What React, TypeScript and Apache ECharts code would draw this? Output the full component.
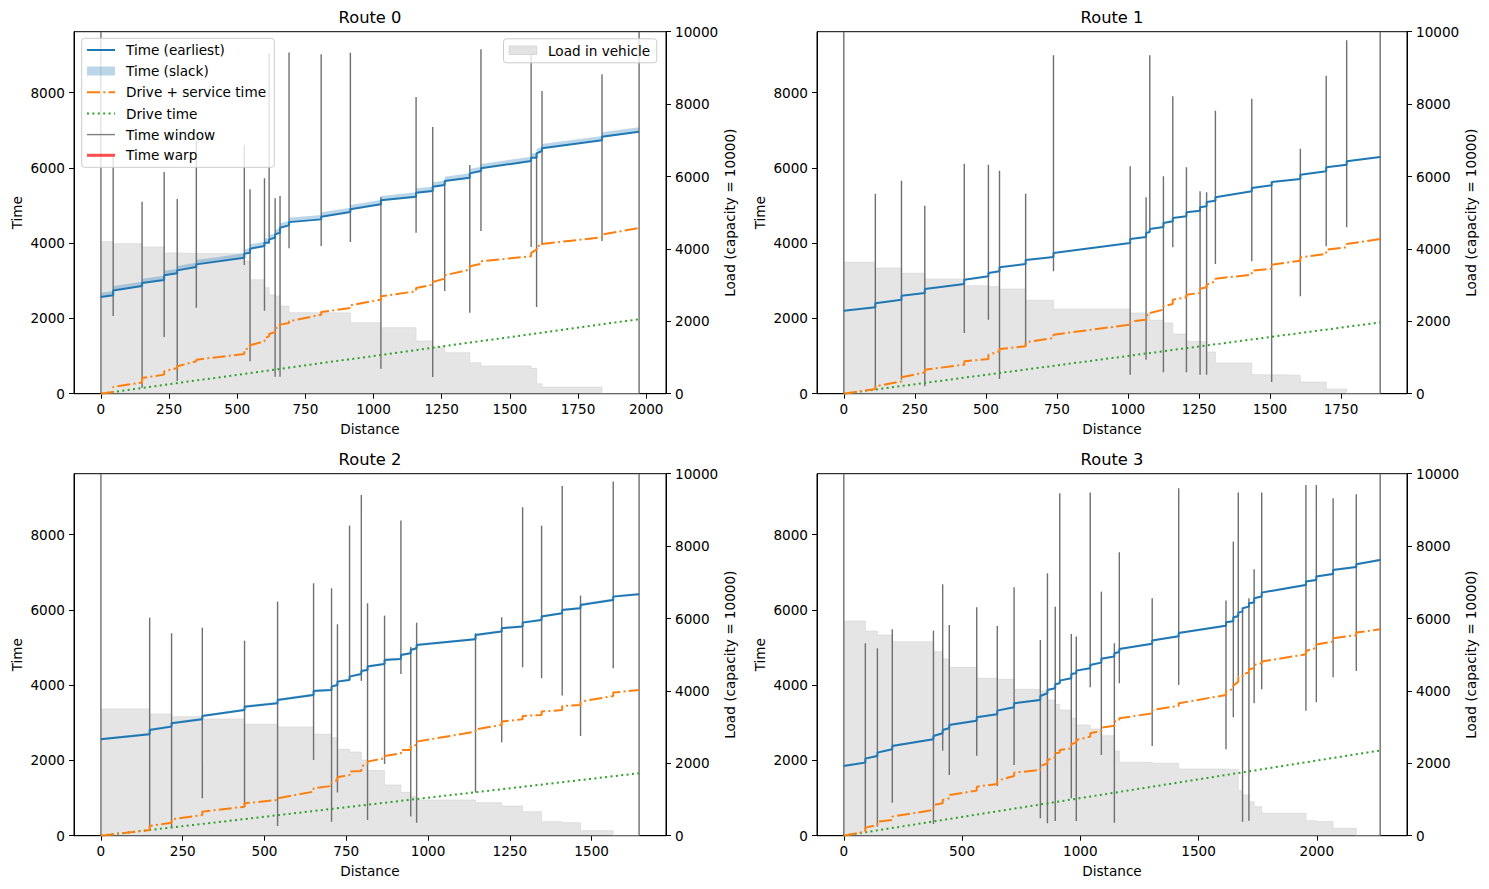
import React, { useEffect, useRef } from "react";
import * as echarts from "echarts";

const FONT = "DejaVu Sans";
const TIME_MAX = 9621;
const LOAD_MAX = 10000;

const routeTitles = ["Route 0", "Route 1", "Route 2", "Route 3"];
const timeTicks = [0, 2000, 4000, 6000, 8000];
const loadTicks = [0, 2000, 4000, 6000, 8000, 10000];

// ---------- Route 0 ----------
const r0DistTicks = [0, 250, 500, 750, 1000, 1250, 1500, 1750, 2000];
const r0Dist = [0, 45, 151, 232, 280, 350, 526, 547, 600, 617, 639, 657, 690, 808, 915, 1027, 1156, 1217, 1261, 1353, 1394, 1578, 1598, 1618, 1838, 1974];
const r0TwEarly = [0, 2065, 160, 1506, 337, 2286, 3421, 860, 2206, 4130, 452, 452, 3865, 3926, 4032, 665, 4280, 443, 2729, 2153, 4324, 3899, 2304, 3952, 4059, 0];
const r0TwLate = [9621, 6300, 5103, 5892, 5175, 6717, 6600, 5431, 5725, 9050, 5194, 5253, 9070, 9019, 9063, 5228, 7886, 7088, 5653, 6078, 9152, 9152, 6406, 8046, 8487, 9621];
const r0Load = [4199, 4144, 4052, 3886, 3875, 3867, 3665, 3149, 2928, 2730, 2700, 2422, 2238, 2230, 1961, 1823, 1455, 1289, 1133, 856, 764, 700, 276, 184, 0];
const r0EarliestArr = [2570, 2615, 2862, 3021, 3200, 3367, 3615, 3748, 3925, 4014, 4146, 4279, 4474, 4633, 4829, 5033, 5236, 5387, 5546, 5741, 5919, 6184, 6273, 6450, 6733, 6964];
const r0EarliestDep = [2570, 2745, 2942, 3150, 3278, 3437, 3721, 3854, 4014, 4102, 4235, 4412, 4560, 4705, 4900, 5139, 5343, 5502, 5653, 5856, 5989, 6273, 6388, 6521, 6831, 6964];
const r0DriveServArr = [0, 48, 300, 507, 684, 861, 1056, 1215, 1393, 1525, 1641, 1765, 1880, 2101, 2279, 2500, 2722, 2899, 3058, 3298, 3448, 3652, 3829, 3944, 4157, 4405];
const r0DriveServDep = [0, 180, 418, 595, 728, 905, 1171, 1286, 1481, 1587, 1747, 1836, 1924, 2172, 2350, 2589, 2810, 2970, 3147, 3386, 3519, 3741, 3918, 3980, 4228, 4405];
const r0DriveTime = [0, 1980];

// ---------- Route 1 ----------
const r1DistTicks = [0, 250, 500, 750, 1000, 1250, 1500, 1750];
const r1Dist = [0, 111, 203, 285, 424, 509, 548, 640, 738, 1008, 1064, 1077, 1125, 1158, 1206, 1254, 1277, 1308, 1436, 1506, 1607, 1698, 1770, 1888];
const r1TwEarly = [0, 152, 372, 197, 1613, 1967, 390, 1260, 3253, 505, 904, 4404, 569, 3891, 569, 505, 505, 3447, 3519, 311, 2589, 3918, 4423, 0];
const r1TwLate = [9621, 5316, 5662, 4998, 6114, 6087, 5928, 5316, 8995, 6045, 5220, 8995, 5779, 7905, 6018, 5380, 5353, 7523, 7841, 5627, 6512, 8453, 9393, 9621];
const r1Load = [3630, 3472, 3326, 3168, 2983, 2960, 2892, 2580, 2340, 2229, 2210, 2027, 1953, 1649, 1447, 1430, 1152, 848, 525, 510, 323, 130, 0];
const r1EarliestArr = [2207, 2296, 2499, 2676, 2916, 3120, 3253, 3447, 3633, 4006, 4165, 4297, 4431, 4582, 4715, 4865, 4981, 5130, 5380, 5539, 5707, 5911, 6087, 6291];
const r1EarliestDep = [2207, 2403, 2605, 2783, 3030, 3208, 3360, 3554, 3740, 4112, 4271, 4378, 4537, 4670, 4822, 4954, 5095, 5220, 5468, 5627, 5821, 6018, 6177, 6291];
const r1DriveServArr = [0, 125, 328, 568, 771, 922, 1126, 1259, 1480, 1835, 1968, 2101, 2234, 2384, 2561, 2677, 2827, 2987, 3164, 3323, 3536, 3713, 3891, 4112];
const r1DriveServDep = [0, 196, 435, 639, 860, 1037, 1188, 1365, 1569, 1923, 2083, 2145, 2322, 2499, 2632, 2792, 2898, 3057, 3270, 3430, 3624, 3828, 3979, 4112];
const r1DriveTime = [0, 1895];

// ---------- Route 2 ----------
const r2DistTicks = [0, 250, 500, 750, 1000, 1250, 1500];
const r2Dist = [0, 149, 216, 310, 439, 540, 650, 705, 723, 760, 796, 815, 867, 917, 947, 965, 1145, 1225, 1289, 1347, 1410, 1466, 1566, 1645];
const r2TwEarly = [0, 179, 197, 994, 772, 259, 2013, 374, 1145, 4139, 4113, 418, 1907, 4299, 507, 347, 1145, 2482, 4476, 4184, 3723, 2651, 4449, 0];
const r2TwLate = [9621, 5796, 5380, 5530, 5185, 6221, 6709, 6576, 5619, 8241, 9057, 6177, 5849, 8374, 5025, 5663, 5380, 5805, 8729, 8241, 9296, 6381, 9411, 9621];
const r2Load = [3500, 3362, 3288, 3223, 3076, 3002, 2800, 2708, 2385, 2312, 2091, 1800, 1400, 1198, 1080, 986, 913, 821, 664, 388, 360, 139, 0];
const r2EarliestArr = [2562, 2695, 2899, 3094, 3342, 3519, 3741, 3873, 4006, 4139, 4299, 4405, 4564, 4697, 4848, 4981, 5220, 5424, 5557, 5734, 5911, 6044, 6266, 6416];
const r2EarliestDep = [2562, 2810, 2988, 3182, 3430, 3608, 3847, 3962, 4095, 4228, 4378, 4494, 4671, 4804, 4937, 5069, 5335, 5513, 5663, 5823, 6000, 6133, 6354, 6416];
const r2DriveServArr = [0, 152, 347, 551, 772, 950, 1171, 1322, 1481, 1614, 1720, 1924, 2057, 2190, 2279, 2411, 2766, 2943, 3094, 3209, 3342, 3475, 3713, 3873];
const r2DriveServDep = [0, 259, 436, 640, 861, 994, 1260, 1410, 1552, 1703, 1836, 1969, 2119, 2279, 2385, 2500, 2828, 3032, 3182, 3298, 3448, 3563, 3803, 3873];
const r2DriveTime = [0, 1660];

// ---------- Route 3 ----------
const r3DistTicks = [0, 500, 1000, 1500, 2000];
const r3Dist = [0, 91, 142, 205, 379, 418, 446, 562, 649, 720, 831, 861, 894, 913, 962, 983, 1042, 1089, 1144, 1165, 1304, 1416, 1616, 1647, 1668, 1686, 1713, 1735, 1767, 1954, 1998, 2069, 2167, 2268];
const r3TwEarly = [0, 134, 241, 879, 312, 2261, 1614, 2128, 1322, 1880, 462, 329, 391, 4051, 994, 391, 3944, 2146, 347, 4051, 2385, 4006, 2296, 3147, 4228, 374, 400, 3519, 3891, 3324, 3546, 4210, 4378, 0];
const r3TwLate = [9621, 5114, 4981, 5486, 5450, 6682, 5601, 6071, 5574, 6602, 5202, 6974, 6088, 9101, 5362, 5291, 9119, 6487, 5114, 7533, 6310, 9234, 6248, 7816, 9119, 5956, 6310, 7081, 9119, 9322, 9322, 8968, 9074, 9621];
const r3Load = [5930, 5654, 5544, 5359, 5083, 4881, 4650, 4347, 4319, 4043, 4000, 3748, 3628, 3472, 3242, 3058, 2947, 2763, 2340, 2027, 2000, 1842, 1830, 1820, 1244, 1124, 940, 802, 618, 415, 390, 203, 0];
const r3EarliestArr = [1854, 1942, 2119, 2296, 2562, 2722, 2855, 3058, 3227, 3413, 3608, 3785, 3918, 4051, 4184, 4316, 4449, 4600, 4760, 4880, 5100, 5300, 5580, 5700, 5840, 5956, 6088, 6199, 6355, 6664, 6797, 6957, 7140, 7329];
const r3EarliestDep = [1854, 2048, 2208, 2385, 2651, 2810, 2943, 3147, 3324, 3519, 3714, 3873, 4024, 4121, 4299, 4387, 4538, 4700, 4850, 4960, 5185, 5385, 5670, 5800, 5929, 6044, 6177, 6310, 6460, 6753, 6886, 7063, 7214, 7329];
const r3DriveServArr = [0, 108, 285, 418, 684, 861, 994, 1198, 1375, 1588, 1747, 1924, 2084, 2208, 2323, 2474, 2633, 2784, 2920, 3060, 3253, 3448, 3740, 3900, 4095, 4228, 4334, 4449, 4582, 4820, 4990, 5160, 5330, 5486];
const r3DriveServDep = [0, 214, 374, 507, 817, 950, 1083, 1304, 1463, 1676, 1853, 2013, 2190, 2279, 2438, 2545, 2722, 2872, 3032, 3120, 3342, 3519, 3840, 3985, 4210, 4299, 4423, 4538, 4627, 4910, 5080, 5250, 5400, 5486];
const r3DriveTime = [0, 2265];

// slack (latest - earliest) per route
const slackWidth = [115, 0, 35, 30];

const routes = [
  { dist: r0Dist, twE: r0TwEarly, twL: r0TwLate, load: r0Load, eA: r0EarliestArr, eD: r0EarliestDep, sA: r0DriveServArr, sD: r0DriveServDep, drive: r0DriveTime, ticks: r0DistTicks },
  { dist: r1Dist, twE: r1TwEarly, twL: r1TwLate, load: r1Load, eA: r1EarliestArr, eD: r1EarliestDep, sA: r1DriveServArr, sD: r1DriveServDep, drive: r1DriveTime, ticks: r1DistTicks },
  { dist: r2Dist, twE: r2TwEarly, twL: r2TwLate, load: r2Load, eA: r2EarliestArr, eD: r2EarliestDep, sA: r2DriveServArr, sD: r2DriveServDep, drive: r2DriveTime, ticks: r2DistTicks },
  { dist: r3Dist, twE: r3TwEarly, twL: r3TwLate, load: r3Load, eA: r3EarliestArr, eD: r3EarliestDep, sA: r3DriveServArr, sD: r3DriveServDep, drive: r3DriveTime, ticks: r3DistTicks },
];

const gridBoxes = [
  { left: 74, top: 31.7, width: 592, height: 362 },
  { left: 817, top: 31.7, width: 590, height: 362 },
  { left: 74, top: 473.7, width: 592, height: 362 },
  { left: 817, top: 473.7, width: 590, height: 362 },
];

const C_BLUE = "#1f77b4";
const C_ORANGE = "#ff7f0e";
const C_GREEN = "#2ca02c";
const C_TW = "#6f6f6f";
const C_SLACK = "rgba(31,119,180,0.3)";
const C_LOAD = "rgba(211,211,211,0.6)";
const DASHDOT = [13, 3.3, 2, 3.3];
const DOTTED = [2, 3.4];
const TICK_FONT = 13.6;

function stepPoints(xs: number[], a: number[], b: number[]) {
  const pts: number[][] = [];
  for (let i = 0; i < xs.length; i++) {
    pts.push([xs[i], a[i]]);
    pts.push([xs[i], b[i]]);
  }
  return pts;
}

function loadPoints(xs: number[], load: number[]) {
  const pts: number[][] = [];
  for (let i = 0; i < load.length; i++) {
    pts.push([xs[i], load[i]]);
    pts.push([xs[i + 1], load[i]]);
  }
  return pts;
}

function buildOption() {
  const grid: any[] = [];
  const xAxis: any[] = [];
  const yAxis: any[] = [];
  const series: any[] = [];
  const graphic: any[] = [];
  const labelStyle = { color: "#000", fontSize: TICK_FONT, fontFamily: FONT };
  const nameStyle = { color: "#000", fontSize: TICK_FONT, fontFamily: FONT };

  routes.forEach((r, i) => {
    const g = gridBoxes[i];
    grid.push({ ...g, show: true, borderColor: "#000", borderWidth: 1, backgroundColor: "transparent", containLabel: false });
    const end = r.dist[r.dist.length - 1];
    const pad = end * 0.05;
    xAxis.push({
      type: "value", gridIndex: i, min: -pad, max: end + pad,
      name: "Distance", nameLocation: "middle", nameGap: 28, nameTextStyle: nameStyle,
      axisLine: { show: true, onZero: false, lineStyle: { color: "#000", width: 1 } },
      axisTick: { show: true, length: 5, lineStyle: { color: "#000", width: 1 }, customValues: r.ticks },
      axisLabel: { ...labelStyle, margin: 8, customValues: r.ticks, formatter: (v: number) => String(v) },
      splitLine: { show: false },
    });
    yAxis.push({
      type: "value", gridIndex: i, position: "left", min: 0, max: TIME_MAX,
      name: "Time", nameLocation: "middle", nameGap: 50, nameRotate: 90, nameTextStyle: nameStyle,
      axisLine: { show: true, onZero: false, lineStyle: { color: "#000", width: 1 } },
      axisTick: { show: true, length: 5, lineStyle: { color: "#000", width: 1 }, customValues: timeTicks },
      axisLabel: { ...labelStyle, margin: 9, customValues: timeTicks, formatter: (v: number) => String(v) },
      splitLine: { show: false },
    });
    yAxis.push({
      type: "value", gridIndex: i, position: "right", min: 0, max: LOAD_MAX,
      name: "Load (capacity = 10000)", nameLocation: "middle", nameGap: 57, nameRotate: 90, nameTextStyle: nameStyle,
      axisLine: { show: true, onZero: false, lineStyle: { color: "#000", width: 1 } },
      axisTick: { show: true, length: 5, lineStyle: { color: "#000", width: 1 }, customValues: loadTicks },
      axisLabel: { ...labelStyle, margin: 9, customValues: loadTicks, formatter: (v: number) => String(v) },
      splitLine: { show: false },
    });
    const yT = 2 * i;
    const yL = 2 * i + 1;

    // load in vehicle (right axis)
    series.push({
      type: "line", name: "Load in vehicle", xAxisIndex: i, yAxisIndex: yL, z: 1,
      data: loadPoints(r.dist, r.load), symbol: "none", silent: true,
      lineStyle: { color: C_LOAD, width: 1 }, areaStyle: { color: C_LOAD, opacity: 1 },
    });

    // time windows
    series.push({
      type: "custom", name: "Time window", xAxisIndex: i, yAxisIndex: yT, z: 3, clip: true, silent: true,
      data: r.dist.map((d, k) => [d, r.twE[k], r.twL[k]]),
      encode: { x: 0, y: [1, 2] },
      renderItem: (_p: any, api: any) => {
        const a = api.coord([api.value(0), api.value(1)]);
        const b = api.coord([api.value(0), api.value(2)]);
        return { type: "line", shape: { x1: a[0], y1: a[1], x2: b[0], y2: b[1] }, style: { stroke: C_TW, lineWidth: 1.4 } };
      },
    });

    const earliestPts = stepPoints(r.dist, r.eA, r.eD);
    const s = slackWidth[i];
    if (s > 0) {
      series.push({
        type: "custom", name: "Time (slack)", xAxisIndex: i, yAxisIndex: yT, z: 4, clip: true, silent: true,
        data: [[0, 0]],
        renderItem: (_p: any, api: any) => {
          const upper = earliestPts.map((p) => api.coord([p[0], p[1] + s]));
          const lower = earliestPts.map((p) => api.coord([p[0], p[1]])).reverse();
          return { type: "polygon", shape: { points: upper.concat(lower) }, style: { fill: C_SLACK } };
        },
      });
    }

    series.push({
      type: "line", name: "Drive time", xAxisIndex: i, yAxisIndex: yT, z: 5, symbol: "none", silent: true,
      data: [[r.dist[0], r.drive[0]], [end, r.drive[1]]],
      lineStyle: { color: C_GREEN, width: 2, type: DOTTED, cap: "butt" },
    });
    series.push({
      type: "line", name: "Drive + service time", xAxisIndex: i, yAxisIndex: yT, z: 6, symbol: "none", silent: true,
      data: stepPoints(r.dist, r.sA, r.sD),
      lineStyle: { color: C_ORANGE, width: 2, type: DASHDOT, cap: "butt" },
    });
    series.push({
      type: "line", name: "Time (earliest)", xAxisIndex: i, yAxisIndex: yT, z: 7, symbol: "none", silent: true,
      data: earliestPts,
      lineStyle: { color: C_BLUE, width: 2 },
    });

    graphic.push({
      type: "text", x: g.left + g.width / 2, y: g.top - 14, z: 50,
      style: { text: routeTitles[i], fill: "#000", fontSize: 16.3, fontFamily: FONT, align: "center", verticalAlign: "middle" },
    });
  });

  // Legend (Route 0, upper left)
  const lx = 81.7, ly = 38.3;
  graphic.push({
    type: "rect", z: 100, shape: { x: lx, y: ly, width: 192.6, height: 129, r: 3 },
    style: { fill: "rgba(255,255,255,0.8)", stroke: "#cccccc", lineWidth: 1 },
  });
  const rowsY = [50, 71, 92.3, 113.6, 134.6, 155.3];
  const rows = [
    { label: "Time (earliest)", color: C_BLUE, width: 2, dash: null as any, rect: false },
    { label: "Time (slack)", color: C_SLACK, width: 0, dash: null, rect: true },
    { label: "Drive + service time", color: C_ORANGE, width: 2, dash: DASHDOT, rect: false },
    { label: "Drive time", color: C_GREEN, width: 2, dash: DOTTED, rect: false },
    { label: "Time window", color: "#808080", width: 1.4, dash: null, rect: false },
    { label: "Time warp", color: "rgba(255,0,0,0.7)", width: 3, dash: null, rect: false },
  ];
  rows.forEach((row, k) => {
    const y = rowsY[k];
    if (row.rect) {
      graphic.push({ type: "rect", z: 101, shape: { x: 87, y: y - 4.5, width: 28, height: 9 }, style: { fill: row.color } });
    } else {
      graphic.push({
        type: "line", z: 101, shape: { x1: 87, y1: y, x2: 115, y2: y },
        style: { stroke: row.color, lineWidth: row.width, lineDash: row.dash || undefined, lineCap: "butt" },
      });
    }
    graphic.push({
      type: "text", z: 101, x: 126, y,
      style: { text: row.label, fill: "#000", fontSize: TICK_FONT, fontFamily: FONT, verticalAlign: "middle" },
    });
  });

  // Legend (Route 0, upper right)
  graphic.push({
    type: "rect", z: 100, shape: { x: 503.5, y: 38.8, width: 153.3, height: 24, r: 3 },
    style: { fill: "rgba(255,255,255,0.8)", stroke: "#cccccc", lineWidth: 1 },
  });
  graphic.push({
    type: "rect", z: 101, shape: { x: 509.3, y: 46, width: 27.4, height: 8.5 },
    style: { fill: "#e3e3e3", stroke: "#d6d6d6", lineWidth: 1 },
  });
  graphic.push({
    type: "text", z: 101, x: 548, y: 50.8,
    style: { text: "Load in vehicle", fill: "#000", fontSize: TICK_FONT, fontFamily: FONT, verticalAlign: "middle" },
  });

  return {
    animation: false,
    backgroundColor: "#ffffff",
    textStyle: { fontFamily: FONT },
    grid, xAxis, yAxis, series, graphic,
  };
}

export default function App() {
  const ref = useRef<HTMLDivElement>(null);
  useEffect(() => {
    if (!ref.current) return;
    const chart = echarts.init(ref.current, undefined, { renderer: "svg" });
    chart.setOption(buildOption() as any);
    return () => chart.dispose();
  }, []);
  return (
    <div
      ref={ref}
      style={{ position: "fixed", left: 0, top: 0, width: 1489, height: 889, background: "#fff" }}
    />
  );
}
